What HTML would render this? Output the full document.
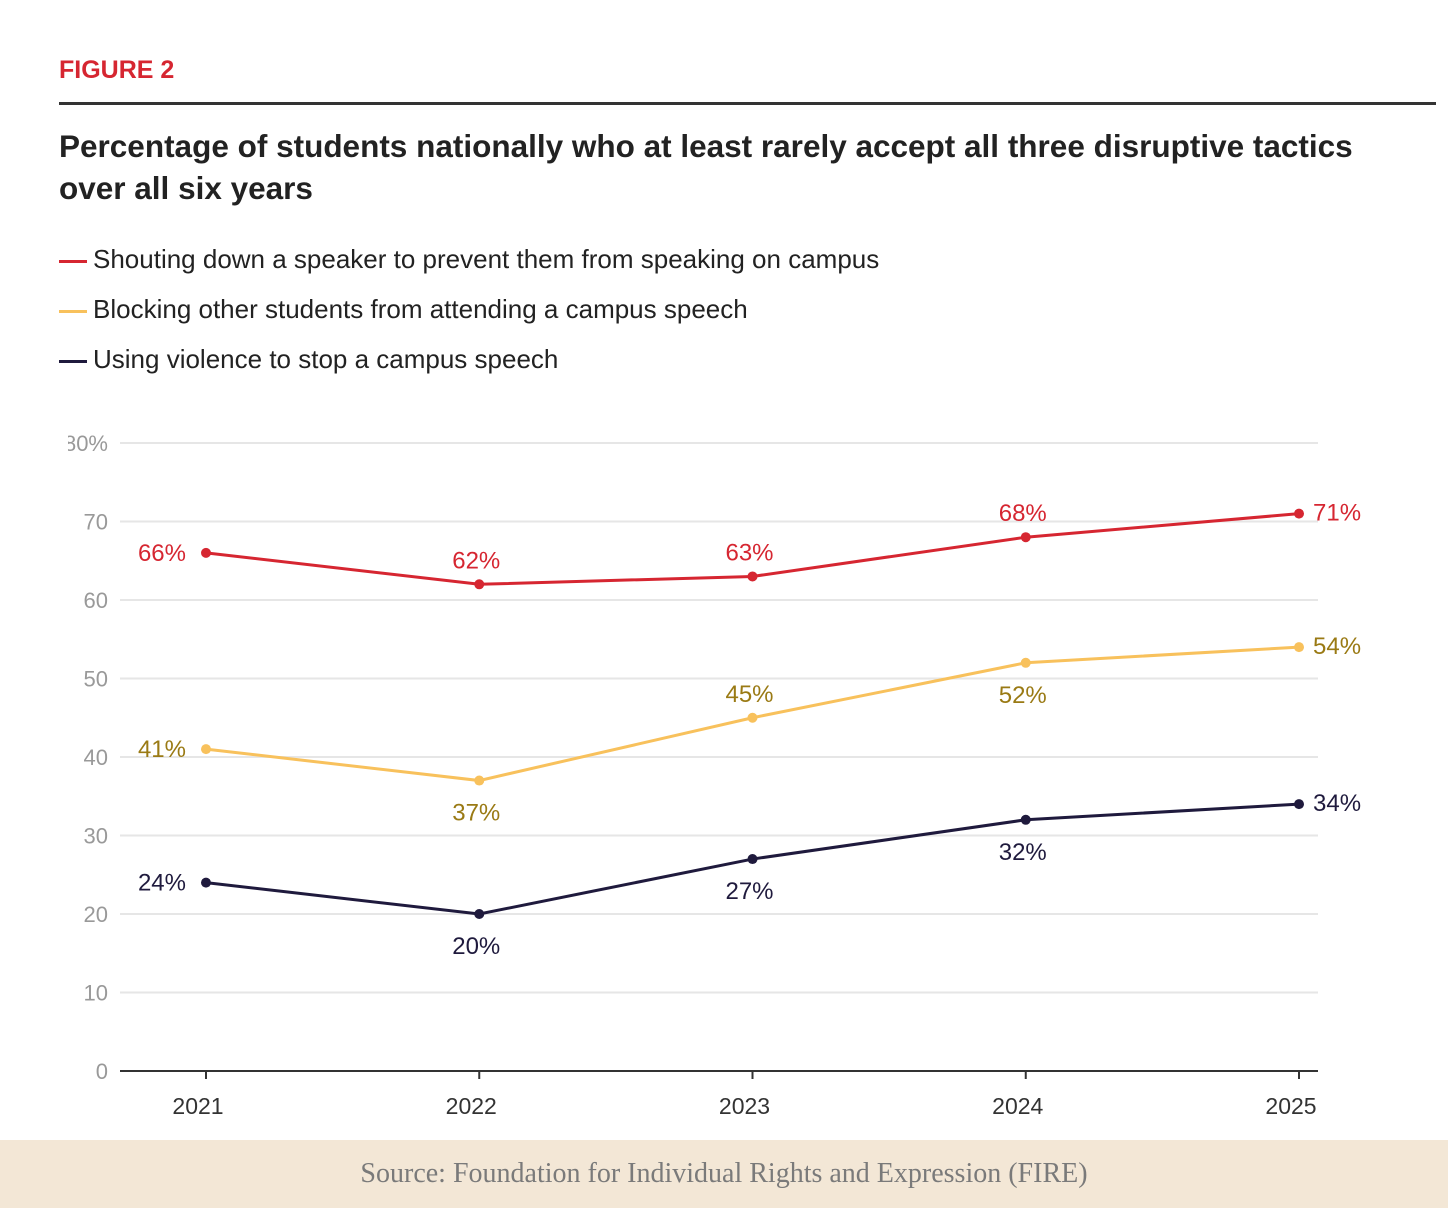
<!DOCTYPE html>
<html><head><meta charset="utf-8"><style>
body{margin:0;width:1448px;height:1208px;background:#fff;position:relative;overflow:hidden;font-family:"Liberation Sans",sans-serif}
.abs{position:absolute}
</style></head><body>
<div class="abs" style="left:59px;top:56px;font-size:25px;font-weight:bold;color:#d62631">FIGURE 2</div>
<div class="abs" style="left:59px;top:102px;width:1377px;height:3px;background:#333"></div>
<div class="abs" style="left:59px;top:125px;width:1340px;font-size:31.5px;font-weight:bold;line-height:42px;color:#222">Percentage of students nationally who at least rarely accept all three disruptive tactics over all six years</div>
<div class="abs" style="left:59px;top:234px;font-size:26px;color:#222;line-height:50px">
<div><span style="display:inline-block;width:28px;height:3px;background:#d62631;vertical-align:middle;margin-right:6px"></span>Shouting down a speaker to prevent them from speaking on campus</div>
<div><span style="display:inline-block;width:28px;height:3px;background:#f8c15c;vertical-align:middle;margin-right:6px"></span>Blocking other students from attending a campus speech</div>
<div><span style="display:inline-block;width:28px;height:3px;background:#1f1a3d;vertical-align:middle;margin-right:6px"></span>Using violence to stop a campus speech</div>
</div>
<svg class="abs" style="left:0;top:0" width="1448" height="1140">
<defs><clipPath id="cl"><rect x="68" y="0" width="1400" height="1140"/></clipPath></defs>
<g id="g" clip-path="url(#cl)"></g>
</svg>
<div class="abs" style="left:0;top:1140px;width:1448px;height:68px;background:#f3e7d6;font-family:'Liberation Serif',serif;font-size:28px;color:#7a7a7a;text-align:center;line-height:68px">Source: Foundation for Individual Rights and Expression (FIRE)</div>
<script>
const years=["2021","2022","2023","2024","2025"];
const shouting=[66,62,63,68,71];
const blocking=[41,37,45,52,54];
const violence=[24,20,27,32,34];
const yTicks=[0,10,20,30,40,50,60,70,80];
const seriesList=[
 {name:"shouting",vals:shouting,line:"#d62631",txt:"#d62631",pos:["l","a","a","a","r"]},
 {name:"blocking",vals:blocking,line:"#f8c15c",txt:"#9a7a14",pos:["l","b","a","b","r"]},
 {name:"violence",vals:violence,line:"#1f1a3d",txt:"#1f1a3d",pos:["l","b","b","b","r"]}];
const NS="http://www.w3.org/2000/svg",g=document.getElementById("g");
const x=i=>206+i*273.25, y=v=>1071-v*7.85;
function mk(t,a,txt){const e=document.createElementNS(NS,t);for(const k in a)e.setAttribute(k,a[k]);if(txt!=null)e.textContent=txt;g.appendChild(e);return e;}
yTicks.forEach(t=>{
 const l=mk("line",{x1:120,x2:1318,y1:y(t),y2:y(t),stroke:t?"#e6e6e6":"#333","stroke-width":2});
 
 
 const tx=mk("text",{x:108,y:y(t)+8,"text-anchor":"end","font-size":22,fill:"#999","font-family":"Liberation Sans, sans-serif"},t===80?"80%":String(t));
 
 
});
years.forEach((yr,i)=>{
 const tk=mk("line",{x1:x(i),x2:x(i),y1:1071,y2:1079,stroke:"#333","stroke-width":2});
 
 
 const t=mk("text",{x:x(i)-8,y:1114,"text-anchor":"middle","font-size":23,fill:"#333","font-family":"Liberation Sans, sans-serif"},yr);
 
 
});
seriesList.forEach(s=>{
 const p=mk("polyline",{points:s.vals.map((v,i)=>x(i)+","+y(v)).join(" "),fill:"none",stroke:s.line,"stroke-width":3});
 
 
 s.vals.forEach((v,i)=>{
  const c=mk("circle",{cx:x(i),cy:y(v),r:5,fill:s.line});
  
  
  let lx=x(i),ly=y(v)+8,an="middle";const ps=s.pos[i];
  if(ps=="l"){lx=x(i)-20;an="end";} else if(ps=="r"){lx=x(i)+14;an="start";ly=y(v)+7;}
  else if(ps=="a"){lx=x(i)-3;ly=y(v)-16;} else {lx=x(i)-3;ly=y(v)+40;}
  const t=mk("text",{x:lx,y:ly,"text-anchor":an,"font-size":24,fill:s.txt,"font-family":"Liberation Sans, sans-serif"},v+"%");
  
  
 });
});
</script>
</body></html>
